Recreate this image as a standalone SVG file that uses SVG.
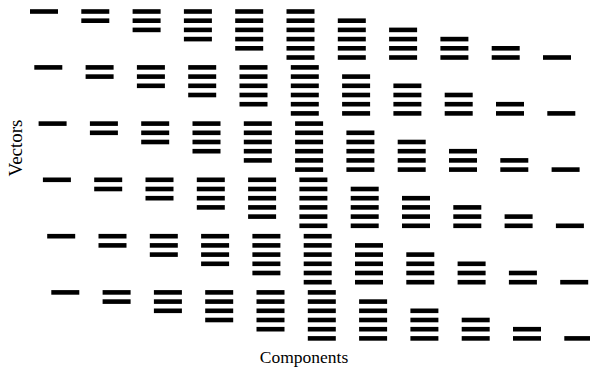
<svg xmlns="http://www.w3.org/2000/svg" width="590" height="377" viewBox="0 0 590 377">
<style>
.b{fill:#000}
.lbl{font-family:"Liberation Serif","Times New Roman",serif;fill:#000}
</style>
<defs>
<rect id="bar" class="b" x="0" y="-2.3" width="28" height="4.6"/>
</defs>
<rect width="590" height="377" fill="#fff"/>
<g id="connectors"/>
<g id="grid">
<g id="row1" transform="translate(30,11.5)">
<g id="r1c1"><use href="#bar" y="0"/></g>
<g id="r1c2" transform="translate(51.3,0)"><use href="#bar" y="0"/><use href="#bar" y="9.2"/></g>
<g id="r1c3" transform="translate(102.6,0)"><use href="#bar" y="0"/><use href="#bar" y="9.2"/><use href="#bar" y="18.4"/></g>
<g id="r1c4" transform="translate(153.9,0)"><use href="#bar" y="0"/><use href="#bar" y="9.2"/><use href="#bar" y="18.4"/><use href="#bar" y="27.6"/></g>
<g id="r1c5" transform="translate(205.2,0)"><use href="#bar" y="0"/><use href="#bar" y="9.2"/><use href="#bar" y="18.4"/><use href="#bar" y="27.6"/><use href="#bar" y="36.8"/></g>
<g id="r1c6" transform="translate(256.5,0)"><use href="#bar" y="0"/><use href="#bar" y="9.2"/><use href="#bar" y="18.4"/><use href="#bar" y="27.6"/><use href="#bar" y="36.8"/><use href="#bar" y="46"/></g>
<g id="r1c7" transform="translate(307.8,0)"><use href="#bar" y="9.2"/><use href="#bar" y="18.4"/><use href="#bar" y="27.6"/><use href="#bar" y="36.8"/><use href="#bar" y="46"/></g>
<g id="r1c8" transform="translate(359.1,0)"><use href="#bar" y="18.4"/><use href="#bar" y="27.6"/><use href="#bar" y="36.8"/><use href="#bar" y="46"/></g>
<g id="r1c9" transform="translate(410.4,0)"><use href="#bar" y="27.6"/><use href="#bar" y="36.8"/><use href="#bar" y="46"/></g>
<g id="r1c10" transform="translate(461.7,0)"><use href="#bar" y="36.8"/><use href="#bar" y="46"/></g>
<g id="r1c11" transform="translate(513,0)"><use href="#bar" y="46"/></g>
</g>
<g id="row2" transform="translate(34.3,67.4)">
<g id="r2c1"><use href="#bar" y="0"/></g>
<g id="r2c2" transform="translate(51.3,0)"><use href="#bar" y="0"/><use href="#bar" y="9.2"/></g>
<g id="r2c3" transform="translate(102.6,0)"><use href="#bar" y="0"/><use href="#bar" y="9.2"/><use href="#bar" y="18.4"/></g>
<g id="r2c4" transform="translate(153.9,0)"><use href="#bar" y="0"/><use href="#bar" y="9.2"/><use href="#bar" y="18.4"/><use href="#bar" y="27.6"/></g>
<g id="r2c5" transform="translate(205.2,0)"><use href="#bar" y="0"/><use href="#bar" y="9.2"/><use href="#bar" y="18.4"/><use href="#bar" y="27.6"/><use href="#bar" y="36.8"/></g>
<g id="r2c6" transform="translate(256.5,0)"><use href="#bar" y="0"/><use href="#bar" y="9.2"/><use href="#bar" y="18.4"/><use href="#bar" y="27.6"/><use href="#bar" y="36.8"/><use href="#bar" y="46"/></g>
<g id="r2c7" transform="translate(307.8,0)"><use href="#bar" y="9.2"/><use href="#bar" y="18.4"/><use href="#bar" y="27.6"/><use href="#bar" y="36.8"/><use href="#bar" y="46"/></g>
<g id="r2c8" transform="translate(359.1,0)"><use href="#bar" y="18.4"/><use href="#bar" y="27.6"/><use href="#bar" y="36.8"/><use href="#bar" y="46"/></g>
<g id="r2c9" transform="translate(410.4,0)"><use href="#bar" y="27.6"/><use href="#bar" y="36.8"/><use href="#bar" y="46"/></g>
<g id="r2c10" transform="translate(461.7,0)"><use href="#bar" y="36.8"/><use href="#bar" y="46"/></g>
<g id="r2c11" transform="translate(513,0)"><use href="#bar" y="46"/></g>
</g>
<g id="row3" transform="translate(38.6,123.6)">
<g id="r3c1"><use href="#bar" y="0"/></g>
<g id="r3c2" transform="translate(51.3,0)"><use href="#bar" y="0"/><use href="#bar" y="9.2"/></g>
<g id="r3c3" transform="translate(102.6,0)"><use href="#bar" y="0"/><use href="#bar" y="9.2"/><use href="#bar" y="18.4"/></g>
<g id="r3c4" transform="translate(153.9,0)"><use href="#bar" y="0"/><use href="#bar" y="9.2"/><use href="#bar" y="18.4"/><use href="#bar" y="27.6"/></g>
<g id="r3c5" transform="translate(205.2,0)"><use href="#bar" y="0"/><use href="#bar" y="9.2"/><use href="#bar" y="18.4"/><use href="#bar" y="27.6"/><use href="#bar" y="36.8"/></g>
<g id="r3c6" transform="translate(256.5,0)"><use href="#bar" y="0"/><use href="#bar" y="9.2"/><use href="#bar" y="18.4"/><use href="#bar" y="27.6"/><use href="#bar" y="36.8"/><use href="#bar" y="46"/></g>
<g id="r3c7" transform="translate(307.8,0)"><use href="#bar" y="9.2"/><use href="#bar" y="18.4"/><use href="#bar" y="27.6"/><use href="#bar" y="36.8"/><use href="#bar" y="46"/></g>
<g id="r3c8" transform="translate(359.1,0)"><use href="#bar" y="18.4"/><use href="#bar" y="27.6"/><use href="#bar" y="36.8"/><use href="#bar" y="46"/></g>
<g id="r3c9" transform="translate(410.4,0)"><use href="#bar" y="27.6"/><use href="#bar" y="36.8"/><use href="#bar" y="46"/></g>
<g id="r3c10" transform="translate(461.7,0)"><use href="#bar" y="36.8"/><use href="#bar" y="46"/></g>
<g id="r3c11" transform="translate(513,0)"><use href="#bar" y="46"/></g>
</g>
<g id="row4" transform="translate(42.9,179.8)">
<g id="r4c1"><use href="#bar" y="0"/></g>
<g id="r4c2" transform="translate(51.3,0)"><use href="#bar" y="0"/><use href="#bar" y="9.2"/></g>
<g id="r4c3" transform="translate(102.6,0)"><use href="#bar" y="0"/><use href="#bar" y="9.2"/><use href="#bar" y="18.4"/></g>
<g id="r4c4" transform="translate(153.9,0)"><use href="#bar" y="0"/><use href="#bar" y="9.2"/><use href="#bar" y="18.4"/><use href="#bar" y="27.6"/></g>
<g id="r4c5" transform="translate(205.2,0)"><use href="#bar" y="0"/><use href="#bar" y="9.2"/><use href="#bar" y="18.4"/><use href="#bar" y="27.6"/><use href="#bar" y="36.8"/></g>
<g id="r4c6" transform="translate(256.5,0)"><use href="#bar" y="0"/><use href="#bar" y="9.2"/><use href="#bar" y="18.4"/><use href="#bar" y="27.6"/><use href="#bar" y="36.8"/><use href="#bar" y="46"/></g>
<g id="r4c7" transform="translate(307.8,0)"><use href="#bar" y="9.2"/><use href="#bar" y="18.4"/><use href="#bar" y="27.6"/><use href="#bar" y="36.8"/><use href="#bar" y="46"/></g>
<g id="r4c8" transform="translate(359.1,0)"><use href="#bar" y="18.4"/><use href="#bar" y="27.6"/><use href="#bar" y="36.8"/><use href="#bar" y="46"/></g>
<g id="r4c9" transform="translate(410.4,0)"><use href="#bar" y="27.6"/><use href="#bar" y="36.8"/><use href="#bar" y="46"/></g>
<g id="r4c10" transform="translate(461.7,0)"><use href="#bar" y="36.8"/><use href="#bar" y="46"/></g>
<g id="r4c11" transform="translate(513,0)"><use href="#bar" y="46"/></g>
</g>
<g id="row5" transform="translate(47.2,236.2)">
<g id="r5c1"><use href="#bar" y="0"/></g>
<g id="r5c2" transform="translate(51.3,0)"><use href="#bar" y="0"/><use href="#bar" y="9.2"/></g>
<g id="r5c3" transform="translate(102.6,0)"><use href="#bar" y="0"/><use href="#bar" y="9.2"/><use href="#bar" y="18.4"/></g>
<g id="r5c4" transform="translate(153.9,0)"><use href="#bar" y="0"/><use href="#bar" y="9.2"/><use href="#bar" y="18.4"/><use href="#bar" y="27.6"/></g>
<g id="r5c5" transform="translate(205.2,0)"><use href="#bar" y="0"/><use href="#bar" y="9.2"/><use href="#bar" y="18.4"/><use href="#bar" y="27.6"/><use href="#bar" y="36.8"/></g>
<g id="r5c6" transform="translate(256.5,0)"><use href="#bar" y="0"/><use href="#bar" y="9.2"/><use href="#bar" y="18.4"/><use href="#bar" y="27.6"/><use href="#bar" y="36.8"/><use href="#bar" y="46"/></g>
<g id="r5c7" transform="translate(307.8,0)"><use href="#bar" y="9.2"/><use href="#bar" y="18.4"/><use href="#bar" y="27.6"/><use href="#bar" y="36.8"/><use href="#bar" y="46"/></g>
<g id="r5c8" transform="translate(359.1,0)"><use href="#bar" y="18.4"/><use href="#bar" y="27.6"/><use href="#bar" y="36.8"/><use href="#bar" y="46"/></g>
<g id="r5c9" transform="translate(410.4,0)"><use href="#bar" y="27.6"/><use href="#bar" y="36.8"/><use href="#bar" y="46"/></g>
<g id="r5c10" transform="translate(461.7,0)"><use href="#bar" y="36.8"/><use href="#bar" y="46"/></g>
<g id="r5c11" transform="translate(513,0)"><use href="#bar" y="46"/></g>
</g>
<g id="row6" transform="translate(51.3,292.4)">
<g id="r6c1"><use href="#bar" y="0"/></g>
<g id="r6c2" transform="translate(51.3,0)"><use href="#bar" y="0"/><use href="#bar" y="9.2"/></g>
<g id="r6c3" transform="translate(102.6,0)"><use href="#bar" y="0"/><use href="#bar" y="9.2"/><use href="#bar" y="18.4"/></g>
<g id="r6c4" transform="translate(153.9,0)"><use href="#bar" y="0"/><use href="#bar" y="9.2"/><use href="#bar" y="18.4"/><use href="#bar" y="27.6"/></g>
<g id="r6c5" transform="translate(205.2,0)"><use href="#bar" y="0"/><use href="#bar" y="9.2"/><use href="#bar" y="18.4"/><use href="#bar" y="27.6"/><use href="#bar" y="36.8"/></g>
<g id="r6c6" transform="translate(256.5,0)"><use href="#bar" y="0"/><use href="#bar" y="9.2"/><use href="#bar" y="18.4"/><use href="#bar" y="27.6"/><use href="#bar" y="36.8"/><use href="#bar" y="46"/></g>
<g id="r6c7" transform="translate(307.8,0)"><use href="#bar" y="9.2"/><use href="#bar" y="18.4"/><use href="#bar" y="27.6"/><use href="#bar" y="36.8"/><use href="#bar" y="46"/></g>
<g id="r6c8" transform="translate(359.1,0)"><use href="#bar" y="18.4"/><use href="#bar" y="27.6"/><use href="#bar" y="36.8"/><use href="#bar" y="46"/></g>
<g id="r6c9" transform="translate(410.4,0)"><use href="#bar" y="27.6"/><use href="#bar" y="36.8"/><use href="#bar" y="46"/></g>
<g id="r6c10" transform="translate(461.7,0)"><use href="#bar" y="36.8"/><use href="#bar" y="46"/></g>
<g id="r6c11" transform="translate(513,0)"><use href="#bar" y="46"/></g>
</g>
</g>
<g id="labels">
<text class="lbl" font-size="19" text-anchor="middle" transform="translate(22,148) rotate(-90)">Vectors</text>
<text class="lbl" font-size="17.5" text-anchor="middle" x="304" y="363">Components</text>
</g>
</svg>
